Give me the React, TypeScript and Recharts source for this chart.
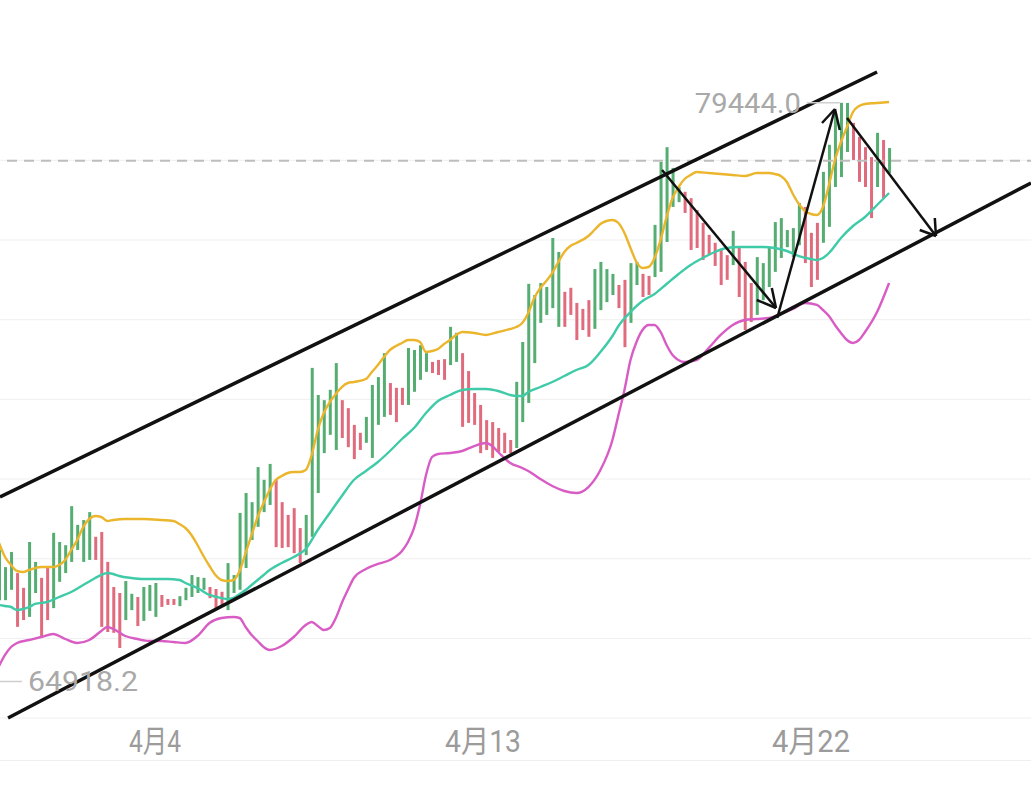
import React from 'react';
import {
  ComposedChart,
  Bar,
  Line,
  XAxis,
  YAxis,
  CartesianGrid,
  ReferenceLine,
  ReferenceDot,
  Cell,
} from 'recharts';

// ---------- data (4h bars, index 0 = first full bar on screen) ----------
const FIRST_BAR = -1;

const barHigh: number[] = [
  68220,
  67790, 68170, 67640, 67270, 68420, 67920, 67520, 67770, 68650, 68420,
  68340, 69320, 68850, 68970, 69170, 68550, 68670, 67920, 67290, 67140,
  67440, 67120, 67040, 67290, 67340, 67390, 67090, 66990, 66990, 67060,
  67270, 67590, 67540, 67520, 67290, 67240, 67170, 67890, 67590, 69150,
  69650, 69420, 70300, 69980, 70380, 69980, 69420, 69100, 69270, 68770,
  69100, 72790, 72110, 71980, 72240, 72910, 71980, 71780, 71360, 71160,
  71560, 72360, 72560, 73160, 72410, 72290, 72290, 73290, 73240, 73360,
  73160, 72940, 72990, 73010, 73820, 73670, 73160, 72710, 72160, 71860,
  71480, 71430, 71280, 71160, 70980, 72440, 73440, 74900, 74620, 74920,
  74820, 76050, 75700, 74700, 74800, 74420, 74270, 74490, 75270, 75450,
  75270, 75150, 74870, 75000, 75420, 75450, 75150, 75100, 76380, 77960,
  78330, 77810, 77330, 77210, 77050, 76750, 76430, 76130, 75930, 75750,
  75620, 76230, 75800, 75450, 74920, 75570, 75420, 75800, 76450, 76550,
  76250, 76300, 76930, 76830, 76180, 76430, 77710, 78390, 79210, 79444,
  79440, 78940, 78590, 78330, 78080, 78690, 78510, 78310,
];

const barLow: number[] = [
  66960,
  66960, 67220, 66290, 66460, 66540, 67140, 66010, 66460, 66760, 67420,
  67640, 67920, 68220, 67920, 67970, 67970, 66290, 66160, 66140, 65760,
  66460, 66710, 66310, 66440, 66690, 66540, 66790, 66840, 66840, 66810,
  66960, 67040, 67140, 67220, 67010, 66760, 66840, 66710, 67140, 67220,
  67770, 68470, 68800, 69170, 69350, 68290, 68270, 68290, 68140, 67890,
  68090, 68550, 69650, 70650, 71110, 70730, 71030, 70800, 70500, 70730,
  70910, 70530, 71360, 71560, 71610, 71430, 71860, 71860, 72190, 72490,
  72690, 72660, 72610, 72490, 72860, 72940, 71310, 71410, 71360, 70650,
  70730, 70530, 70680, 70650, 70650, 70780, 71430, 71910, 72910, 73920,
  74120, 74290, 73820, 73820, 74120, 73490, 73740, 73570, 73770, 74240,
  74440, 74620, 74290, 73310, 73920, 74870, 74570, 74620, 75070, 75200,
  75950, 76830, 76950, 76680, 75750, 75800, 75500, 75620, 75350, 74870,
  75000, 75370, 74570, 73740, 73940, 74120, 74490, 74820, 75200, 75550,
  75820, 75570, 75870, 75420, 74820, 75000, 75930, 76330, 77330, 77580,
  78210, 78010, 77460, 77330, 76550, 77330, 77050, 77680,
];

// G = rising bar, R = falling bar
const barDir: string =
  'G' +
  'GGRRGGRRGG' + 'GGGGGRRRRR' + 'GGRGGGRRRG' + 'GGGGRRRGGG' +
  'GGGGGRRRRR' + 'GGGGGGRRRR' + 'GGGGRRRGGG' + 'GRRRGGRRRR' +
  'RRRRRGGGGG' + 'GGGRRRRRGG' + 'GGRRGGRRGG' + 'GGGRRRRRRR' +
  'RGRRRGGGGG' + 'GGGRRRGGGG' + 'GRRRRGRG';

// Bollinger bands: [bar index, value]
const upperBand: [number, number][] = [
  [-1, 68395], [0, 68043], [1, 67843], [2, 67692], [3, 67667], [4, 67717], [6, 67792],
  [8, 67792], [9, 67843], [10, 67968], [11, 68219], [12, 68470], [13, 68796], [14, 68997],
  [15, 69072], [16, 69047], [17, 68947], [18, 68972], [20, 68997], [23, 68997], [26, 68972],
  [28, 68947], [29, 68872], [30, 68771], [31, 68596], [32, 68345], [33, 68068], [34, 67817],
  [35, 67592], [36, 67466], [37, 67441], [38, 67466], [39, 67692], [40, 68144], [41, 68596],
  [42, 69047], [43, 69399], [44, 69725], [45, 69976], [46, 70076], [47, 70152], [48, 70177],
  [49, 70177], [50, 70227], [51, 70604], [52, 71231], [53, 71658], [54, 71934], [55, 72135],
  [56, 72310], [57, 72411], [58, 72436], [60, 72511], [61, 72687], [62, 72863], [63, 73063],
  [64, 73239], [65, 73339], [66, 73415], [67, 73490], [68, 73490], [69, 73440], [70, 73189],
  [71, 73214], [72, 73264], [73, 73390], [74, 73490], [75, 73616], [76, 73691], [78, 73666],
  [80, 73616], [82, 73691], [84, 73766], [85, 73816], [86, 73917], [87, 74168], [88, 74544],
  [89, 74795], [90, 74971], [91, 75172], [92, 75448], [93, 75699], [94, 75849], [95, 75925],
  [97, 76100], [98, 76251], [99, 76402], [100, 76477], [101, 76502], [102, 76427], [103, 76176],
  [104, 75799], [105, 75448], [106, 75297], [107, 75322], [108, 75548], [109, 76000], [110, 76577],
  [111, 77054], [112, 77330], [113, 77531], [114, 77632], [115, 77707], [117, 77682], [119, 77657],
  [121, 77632], [123, 77606], [125, 77682], [127, 77682], [128, 77657], [129, 77606], [130, 77456],
  [131, 77155], [132, 76904], [133, 76728], [134, 76653], [135, 76628], [136, 76828], [137, 77381],
  [138, 78008], [139, 78460], [140, 78836], [141, 79213], [142, 79363], [143, 79414], [145, 79439],
  [147, 79464],
];

const midBand: [number, number][] = [
  [-1, 66839], [0, 66813], [1, 66788], [2, 66713], [3, 66738], [4, 66788], [5, 66864],
  [7, 66914], [9, 67039], [11, 67165], [13, 67341], [15, 67516], [16, 67592], [17, 67642],
  [18, 67617], [19, 67566], [21, 67516], [23, 67491], [25, 67491], [27, 67491], [29, 67466],
  [30, 67391], [32, 67265], [34, 67090], [36, 67014], [37, 66989], [38, 67014], [39, 67115],
  [40, 67215], [41, 67341], [42, 67466], [43, 67592], [44, 67717], [46, 67893], [48, 68043],
  [50, 68244], [52, 68721], [54, 69148], [56, 69574], [58, 69976], [60, 70202], [62, 70428],
  [64, 70704], [66, 71005], [68, 71281], [70, 71658], [72, 71959], [74, 72110], [76, 72235],
  [78, 72260], [80, 72260], [82, 72210], [84, 72110], [85, 72084], [86, 72084], [87, 72185],
  [89, 72310], [91, 72436], [93, 72586], [95, 72737], [97, 72863], [99, 73189], [101, 73590],
  [102, 73841], [104, 74193], [106, 74469], [108, 74645], [110, 74896], [112, 75147], [114, 75373],
  [116, 75548], [118, 75699], [120, 75799], [122, 75824], [124, 75824], [126, 75824], [128, 75799],
  [130, 75724], [132, 75598], [134, 75523], [135, 75498], [136, 75548], [137, 75674], [139, 76050],
  [141, 76351], [143, 76577], [145, 76879], [147, 77180],
];

const lowerBand: [number, number][] = [
  [-1, 65307], [0, 65584], [1, 65784], [2, 65885], [4, 65960], [6, 66035], [8, 66111],
  [10, 65985], [12, 65885], [14, 65960], [16, 66186], [17, 66286], [18, 66236], [20, 66060],
  [22, 65985], [24, 65935], [26, 65935], [28, 65910], [30, 65885], [32, 66060], [34, 66387],
  [36, 66512], [38, 66537], [39, 66512], [40, 66286], [41, 66086], [42, 65935], [43, 65784],
  [44, 65709], [46, 65809], [48, 66035], [50, 66337], [51, 66412], [52, 66311], [53, 66211],
  [54, 66261], [55, 66512], [56, 66889], [57, 67215], [58, 67516], [60, 67742], [62, 67868],
  [64, 67968], [66, 68194], [67, 68420], [68, 68771], [69, 69349], [70, 70102], [71, 70553],
  [72, 70629], [74, 70654], [76, 70704], [78, 70829], [80, 70905], [81, 70829], [82, 70679],
  [84, 70403], [86, 70277], [87, 70202], [89, 70001], [91, 69825], [93, 69700], [95, 69650],
  [97, 69800], [99, 70227], [101, 70980], [102, 71608], [103, 72235], [104, 72988], [105, 73440],
  [106, 73741], [107, 73867], [108, 73867], [109, 73691], [110, 73365], [111, 73114], [113, 72938],
  [115, 72988], [117, 73289], [119, 73616], [121, 73867], [123, 73992], [125, 74017], [127, 74042],
  [129, 74143], [131, 74268], [133, 74419], [135, 74369], [136, 74243], [137, 74092], [138, 73867],
  [139, 73666], [140, 73490], [141, 73415], [142, 73490], [143, 73691], [145, 74193], [147, 74921],
];

const tickPos: number[] = [24.94, 79.48, 134.02];
const tickLabels: string[] = ['4月4', '4月13', '4月22'];
const tickWidths: number[] = [52, 76, 78];

const gridVals: number[] = [64000, 66000, 68000, 70000, 72000, 74000, 76000, 78000];
const lastPriceLine = 77990;

const highLabel = { x: 133.0, y: 79444, text: '79444.0' };
const lowLabel = { x: 2.83, y: 64918.2, text: '64918.2' };
const topText = 'UB:71785.2';

// trend channel + arrows, in (bar index, price)
const channelLines: [number, number, number, number][] = [
  [-0.83, 69549, 145.0, 80217],
  [0.5, 64002, 170.6, 77431],
];
const arrowLines: [number, number, number, number][] = [
  [109.25, 77757, 128.2, 74293],
  [128.2, 74293, 125.0, 74494],
  [128.2, 74293, 127.5, 74795],
  [128.4, 74042, 138.0, 79288],
  [138.0, 79288, 135.85, 78937],
  [138.0, 79288, 138.8, 78761],
  [140.0, 79062, 154.8, 76100],
  [154.8, 76100, 152.1, 76251],
  [154.8, 76100, 154.6, 76552],
];

// ---------- build table ----------
const CAT_MIN = -2;
const CAT_MAX = 172;
const BAND = 6.014;
const PLOT_LEFT = 5 + CAT_MIN * BAND - BAND / 2;
const CHART_W = (CAT_MAX - CAT_MIN + 1) * BAND;

type Row = {
  i: number;
  range?: [number, number];
  dir?: string;
  upper?: number | null;
  mid?: number | null;
  lower?: number | null;
};

const data: Row[] = [];
for (let i = CAT_MIN; i <= CAT_MAX; i++) {
  const k = i - FIRST_BAR;
  const row: Row = { i, upper: null, mid: null, lower: null };
  if (k >= 0 && k < barHigh.length) {
    row.range = [barLow[k], barHigh[k]];
    row.dir = barDir[k];
  }
  data.push(row);
}
upperBand.forEach(([i, v]) => { data[i - CAT_MIN].upper = v; });
midBand.forEach(([i, v]) => { data[i - CAT_MIN].mid = v; });
lowerBand.forEach(([i, v]) => { data[i - CAT_MIN].lower = v; });

const GREEN = '#55ad72';
const RED = '#e06b7d';
const FONT = "Roboto, 'Noto Sans CJK SC', sans-serif";

const DateTick = (props: any) => {
  const { x, payload } = props;
  const k = tickPos.indexOf(payload.value);
  if (k < 0) return null;
  return (
    <text
      x={x}
      y={752}
      textAnchor="middle"
      fill="#9b9b9b"
      fontSize={31}
      fontFamily={FONT}
      textLength={tickWidths[k]}
      lengthAdjust="spacingAndGlyphs"
    >
      {tickLabels[k]}
    </text>
  );
};

const PriceLabel = (side: 'left' | 'right', text: string, width: number) => (props: any) => {
  const vb = props.viewBox || {};
  const cx = (vb.x ?? 0) + (vb.width ?? 0) / 2;
  const cy = (vb.y ?? 0) + (vb.height ?? 0) / 2;
  return (
    <text
      x={side === 'left' ? cx - 4 : cx + 6}
      y={cy + 10}
      textAnchor={side === 'left' ? 'end' : 'start'}
      fill="#a9a9a9"
      fontSize={28}
      fontFamily={FONT}
      textLength={width}
      lengthAdjust="spacingAndGlyphs"
    >
      {text}
    </text>
  );
};

export default function App() {
  return (
    <div
      style={{
        position: 'fixed',
        left: 0,
        top: 0,
        width: 1031,
        height: 786,
        overflow: 'hidden',
        background: '#ffffff',
      }}
    >
      <div
        style={{
          position: 'absolute',
          left: 0,
          top: 760,
          width: 1031,
          height: 1,
          background: '#efefef',
        }}
      />
      <div style={{ position: 'absolute', left: PLOT_LEFT, top: 0 }}>
        <ComposedChart
          width={CHART_W}
          height={786}
          data={data}
          margin={{ top: 0, right: 0, bottom: 26, left: 0 }}
        >
          <XAxis dataKey="i" type="category" hide />
          <XAxis
            xAxisId="n"
            dataKey="i"
            type="number"
            domain={[CAT_MIN - 0.5, CAT_MAX + 0.5]}
            allowDataOverflow
            ticks={tickPos}
            interval={0}
            height={40}
            axisLine={false}
            tickLine={false}
            tick={<DateTick />}
          />
          <YAxis domain={[63952, 82024]} allowDataOverflow hide />
          <CartesianGrid vertical={false} horizontalValues={gridVals} stroke="#efefef" strokeWidth={1} />
          <ReferenceLine y={lastPriceLine} stroke="#bdbdbd" strokeWidth={2} strokeDasharray="10 7" />
          <Bar dataKey="range" barSize={3} isAnimationActive={false}>
            {data.map((d, k) => (
              <Cell key={k} fill={d.dir === 'R' ? RED : GREEN} />
            ))}
          </Bar>
          <Line
            type="monotone"
            dataKey="lower"
            stroke="#d85cc4"
            strokeWidth={2.4}
            dot={false}
            activeDot={false}
            connectNulls
            isAnimationActive={false}
          />
          <Line
            type="monotone"
            dataKey="mid"
            stroke="#3fcaa8"
            strokeWidth={2.4}
            dot={false}
            activeDot={false}
            connectNulls
            isAnimationActive={false}
          />
          <Line
            type="monotone"
            dataKey="upper"
            stroke="#ebb52c"
            strokeWidth={2.4}
            dot={false}
            activeDot={false}
            connectNulls
            isAnimationActive={false}
          />
          {channelLines.map((s, k) => (
            <ReferenceLine
              key={'c' + k}
              xAxisId="n"
              segment={[{ x: s[0], y: s[1] }, { x: s[2], y: s[3] }]}
              stroke="#111111"
              strokeWidth={3.5}
            />
          ))}
          {arrowLines.map((s, k) => (
            <ReferenceLine
              key={'a' + k}
              xAxisId="n"
              segment={[{ x: s[0], y: s[1] }, { x: s[2], y: s[3] }]}
              stroke="#111111"
              strokeWidth={2.5}
            />
          ))}
          <ReferenceLine
            xAxisId="n"
            segment={[{ x: highLabel.x + 0.3, y: highLabel.y }, { x: highLabel.x + 5.8, y: highLabel.y }]}
            stroke="#cfcfcf"
            strokeWidth={1.5}
          />
          <ReferenceDot
            xAxisId="n"
            x={highLabel.x}
            y={highLabel.y}
            r={0}
            fill="none"
            stroke="none"
            label={{ content: PriceLabel('left', highLabel.text, 106) }}
          />
          <ReferenceLine
            xAxisId="n"
            segment={[{ x: -2, y: lowLabel.y }, { x: lowLabel.x, y: lowLabel.y }]}
            stroke="#cfcfcf"
            strokeWidth={1.5}
          />
          <ReferenceDot
            xAxisId="n"
            x={lowLabel.x}
            y={lowLabel.y}
            r={0}
            fill="none"
            stroke="none"
            label={{ content: PriceLabel('right', lowLabel.text, 110) }}
          />
        </ComposedChart>
      </div>
      <div
        style={{
          position: 'absolute',
          left: 0,
          top: -27,
          fontFamily: FONT,
          fontSize: 28,
          color: '#d65cbf',
          whiteSpace: 'nowrap',
          lineHeight: '34px',
          width: 118,
          textAlign: 'right',
        }}
      >
        {topText}
      </div>
    </div>
  );
}
